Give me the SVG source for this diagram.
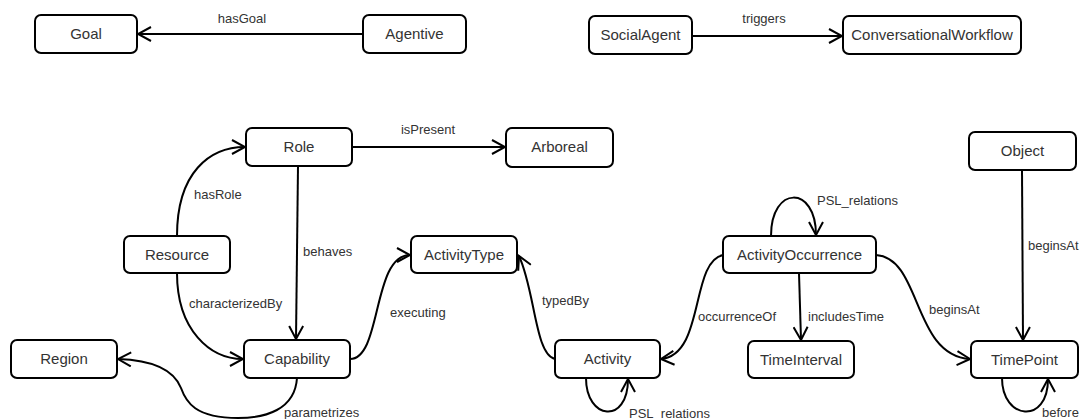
<svg xmlns="http://www.w3.org/2000/svg" width="1086" height="419" viewBox="0 0 1086 419">
<style>
.n rect{fill:#fff;stroke:#000;stroke-width:2}
.n text{font-family:"Liberation Sans",Arial,sans-serif;font-size:15px;font-weight:normal;fill:#333;text-anchor:middle}
.e path{fill:none;stroke:#000;stroke-width:2}
.l{font-family:"Liberation Sans",Arial,sans-serif;font-size:13px;fill:#333}
</style>
<defs>
<marker id="a" viewBox="0 0 16 16" refX="14" refY="8" markerWidth="16" markerHeight="16" markerUnits="userSpaceOnUse" orient="auto">
<path d="M1,1 L14,8 L1,15" fill="none" stroke="#000" stroke-width="2"/>
</marker>
</defs>
<rect width="1086" height="419" fill="#fff"/>
<g id="connectors" class="e">
<path d="M363,34 L138,34" marker-end="url(#a)"/>
<path d="M692,36 L842,36" marker-end="url(#a)"/>
<path d="M352,147 L505,147" marker-end="url(#a)"/>
<path d="M177,236 C177,172 210,147 245,147" marker-end="url(#a)"/>
<path d="M298,166 L296,339" marker-end="url(#a)"/>
<path d="M177,273 C177,330 210,359 243,359" marker-end="url(#a)"/>
<path d="M297,378 C295,410 265,418 238,418 C195,418 186,402 181,388 C173,368 150,360 118,359" marker-end="url(#a)"/>
<path d="M350,359 C382,359 372,255 410,255" marker-end="url(#a)"/>
<path d="M555,359 C535,355 535,290 519,256" marker-end="url(#a)"/>
<path d="M586,378 C586,420 628,425 628,379" marker-end="url(#a)"/>
<path d="M771,236 C771,185 816,185 816,235" marker-end="url(#a)"/>
<path d="M799,273 L801,340" marker-end="url(#a)"/>
<path d="M723,255 C690,262 705,355 661,359" marker-end="url(#a)"/>
<path d="M876,255 C922,258 912,355 970,359" marker-end="url(#a)"/>
<path d="M1022,170 L1023,340" marker-end="url(#a)"/>
<path d="M1002,378 C1002,420 1048,425 1048,379" marker-end="url(#a)"/>
<text class="l" x="242" y="23" text-anchor="middle">hasGoal</text>
<text class="l" x="764" y="23" text-anchor="middle">triggers</text>
<text class="l" x="428" y="134" text-anchor="middle">isPresent</text>
<text class="l" x="194" y="199">hasRole</text>
<text class="l" x="303" y="256">behaves</text>
<text class="l" x="189" y="308">characterizedBy</text>
<text class="l" x="284" y="417">parametrizes</text>
<text class="l" x="390" y="317">executing</text>
<text class="l" x="542" y="305">typedBy</text>
<text class="l" x="629" y="418">PSL_relations</text>
<text class="l" x="817" y="205">PSL_relations</text>
<text class="l" x="698" y="321">occurrenceOf</text>
<text class="l" x="808" y="321">includesTime</text>
<text class="l" x="929" y="314">beginsAt</text>
<text class="l" x="1028" y="250">beginsAt</text>
<text class="l" x="1042" y="417">before</text>
</g>
<g id="Goal" class="n"><rect x="35" y="15" width="102" height="38" rx="6"/><text x="86" y="39">Goal</text></g>
<g id="Agentive" class="n"><rect x="363" y="15" width="103" height="38" rx="6"/><text x="414.5" y="39">Agentive</text></g>
<g id="SocialAgent" class="n"><rect x="589" y="16" width="103" height="38" rx="6"/><text x="640.5" y="40">SocialAgent</text></g>
<g id="ConversationalWorkflow" class="n"><rect x="843" y="16" width="178" height="38" rx="6"/><text x="932" y="40">ConversationalWorkflow</text></g>
<g id="Role" class="n"><rect x="246" y="128" width="106" height="38" rx="6"/><text x="299" y="152">Role</text></g>
<g id="Arboreal" class="n"><rect x="506" y="128" width="107" height="39" rx="6"/><text x="559.5" y="152">Arboreal</text></g>
<g id="Object" class="n"><rect x="969" y="132" width="107" height="38" rx="6"/><text x="1022.5" y="156">Object</text></g>
<g id="Resource" class="n"><rect x="124" y="236" width="106" height="37" rx="6"/><text x="177" y="260">Resource</text></g>
<g id="ActivityType" class="n"><rect x="411" y="236" width="106" height="37" rx="6"/><text x="464" y="260">ActivityType</text></g>
<g id="ActivityOccurrence" class="n"><rect x="723" y="236" width="153" height="37" rx="6"/><text x="799.5" y="260">ActivityOccurrence</text></g>
<g id="Region" class="n"><rect x="11" y="340" width="106" height="38" rx="6"/><text x="64" y="364">Region</text></g>
<g id="Capability" class="n"><rect x="244" y="340" width="106" height="38" rx="6"/><text x="297" y="364">Capability</text></g>
<g id="Activity" class="n"><rect x="555" y="340" width="105" height="38" rx="6"/><text x="607.5" y="364">Activity</text></g>
<g id="TimeInterval" class="n"><rect x="748" y="341" width="106" height="37" rx="6"/><text x="801" y="365">TimeInterval</text></g>
<g id="TimePoint" class="n"><rect x="971" y="341" width="107" height="37" rx="6"/><text x="1024.5" y="365">TimePoint</text></g>
</svg>
